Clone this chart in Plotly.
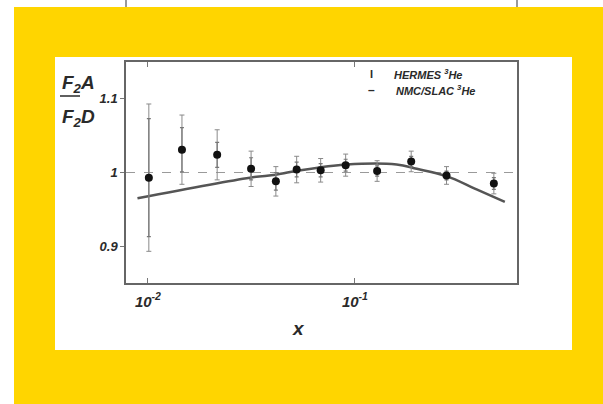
import plotly.graph_objects as go

# ---------------- data ----------------
x_hermes = [0.0101, 0.0146, 0.0216, 0.0315, 0.0415, 0.0523, 0.0683, 0.0902, 0.128, 0.187, 0.277, 0.469]
ratio_hermes = [0.993, 1.031, 1.024, 1.005, 0.988, 1.004, 1.003, 1.010, 1.002, 1.015, 0.996, 0.985]
err_total = [0.100, 0.047, 0.034, 0.024, 0.020, 0.018, 0.016, 0.015, 0.014, 0.014, 0.012, 0.014]
err_stat = [0.080, 0.030, 0.017, 0.015, 0.012, 0.010, 0.009, 0.008, 0.007, 0.007, 0.006, 0.008]

x_nmc = [0.0089, 0.0311, 0.0415, 0.0542, 0.0912, 0.159, 0.199, 0.277, 0.387, 0.530]
ratio_nmc = [0.965, 0.993, 0.997, 1.003, 1.011, 1.011, 1.005, 0.995, 0.977, 0.960]

y_ticks = [0.9, 1.0, 1.1]
y_ticktext = ["0.9", "1", "1.1"]
x_ticks = [0.01, 0.1]
x_ticktext = ["10<sup>-2</sup>", "10<sup>-1</sup>"]

# ---------------- layout geometry ----------------
W, H = 603, 404
L, R, T, B = 126, 517, 62, 283  # plot area in pixels
PW, PH = R - L, B - T


def px(x):
    return (x - L) / PW


def py(y):
    return (B - y) / PH


FONT = "Liberation Sans, Arial, sans-serif"
TXT = "#2a2a2a"


def bi(s):
    return "<b><i>" + s + "</i></b>"


fig = go.Figure()

fig.add_trace(go.Scatter(
    x=x_nmc, y=ratio_nmc, mode="lines",
    line=dict(color="#555555", width=2.5, shape="spline"),
    showlegend=False, hoverinfo="skip"))

fig.add_trace(go.Scatter(
    x=x_hermes, y=ratio_hermes, mode="markers",
    marker=dict(size=1, color="rgba(0,0,0,0)"),
    error_y=dict(type="data", array=err_total, color="#8a8a8a", thickness=1, width=2.5),
    showlegend=False))

fig.add_trace(go.Scatter(
    x=x_hermes, y=ratio_hermes, mode="markers",
    marker=dict(size=8, color="#111111"),
    error_y=dict(type="data", array=err_stat, color="#777777", thickness=1.2, width=2),
    showlegend=False))

shapes = [
    # white strip on top and left (slide background is yellow)
    dict(type="rect", xref="paper", yref="paper", x0=px(-5), x1=px(610), y0=py(7), y1=py(-5),
         fillcolor="#FFFFFF", line=dict(width=0), layer="below"),
    dict(type="rect", xref="paper", yref="paper", x0=px(-5), x1=px(14), y0=py(410), y1=py(-5),
         fillcolor="#FFFFFF", line=dict(width=0), layer="below"),
    # white panel
    dict(type="rect", xref="paper", yref="paper", x0=px(55), x1=px(572), y0=py(350), y1=py(57),
         fillcolor="#FFFFFF", line=dict(width=0), layer="below"),
    # remnant of previous plot at top
    dict(type="line", xref="paper", yref="paper", x0=0, x1=0, y0=py(7), y1=py(0),
         line=dict(color="#777777", width=1.5)),
    dict(type="line", xref="paper", yref="paper", x0=1, x1=1, y0=py(7), y1=py(0),
         line=dict(color="#777777", width=1.5)),
    # dashed reference at 1
    dict(type="line", xref="paper", yref="y", x0=0, x1=1, y0=1, y1=1,
         line=dict(color="#9a9a9a", width=1, dash="dash"), layer="below"),
    # fraction bar of y label
    dict(type="line", xref="paper", yref="paper", x0=px(60), x1=px(80), y0=py(96), y1=py(96),
         line=dict(color=TXT, width=1.5)),
]

annotations = [
    dict(text=bi("F<sub>2</sub>A"), x=px(60), y=py(84), xref="paper", yref="paper",
         xanchor="left", yanchor="middle", showarrow=False, font=dict(family=FONT, size=19, color=TXT)),
    dict(text=bi("F<sub>2</sub>D"), x=px(60), y=py(118), xref="paper", yref="paper",
         xanchor="left", yanchor="middle", showarrow=False, font=dict(family=FONT, size=19, color=TXT)),
    dict(text=bi("x"), x=px(298), y=py(328), xref="paper", yref="paper",
         xanchor="center", yanchor="middle", showarrow=False, font=dict(family=FONT, size=19, color=TXT)),
    dict(text="<b>I</b>", x=px(371), y=py(74), xref="paper", yref="paper",
         xanchor="center", yanchor="middle", showarrow=False, font=dict(family=FONT, size=11, color=TXT)),
    dict(text="<b>–</b>", x=px(371), y=py(90), xref="paper", yref="paper",
         xanchor="center", yanchor="middle", showarrow=False, font=dict(family=FONT, size=12, color=TXT)),
    dict(text=bi("HERMES <sup>3</sup>He"), x=px(392), y=py(74), xref="paper", yref="paper",
         xanchor="left", yanchor="middle", showarrow=False, font=dict(family=FONT, size=11, color=TXT)),
    dict(text=bi("NMC/SLAC <sup>3</sup>He"), x=px(394), y=py(90), xref="paper", yref="paper",
         xanchor="left", yanchor="middle", showarrow=False, font=dict(family=FONT, size=11, color=TXT)),
]

fig.update_layout(
    width=W, height=H,
    margin=dict(l=L, r=W - R, t=T, b=H - B, pad=0),
    paper_bgcolor="#FFD500",
    plot_bgcolor="rgba(0,0,0,0)",
    showlegend=False,
    shapes=shapes,
    annotations=annotations,
    xaxis=dict(
        type="log", range=[-2.106, -0.217],
        tickvals=x_ticks, ticktext=[bi(t) for t in x_ticktext],
        ticks="inside", ticklen=5, tickcolor="#777777",
        showline=True, linecolor="#666666", linewidth=1.5, mirror="ticks",
        showgrid=False, zeroline=False,
        tickfont=dict(family=FONT, size=15, color=TXT),
        ticklabelstandoff=4,
    ),
    yaxis=dict(
        range=[0.85, 1.15],
        tickvals=y_ticks, ticktext=[bi(t) for t in y_ticktext],
        ticks="outside", ticklen=4, tickcolor="#777777",
        showline=True, linecolor="#666666", linewidth=1.5, mirror=True,
        showgrid=False, zeroline=False,
        tickfont=dict(family=FONT, size=13, color=TXT),
    ),
)

fig.write_html("out.html")
